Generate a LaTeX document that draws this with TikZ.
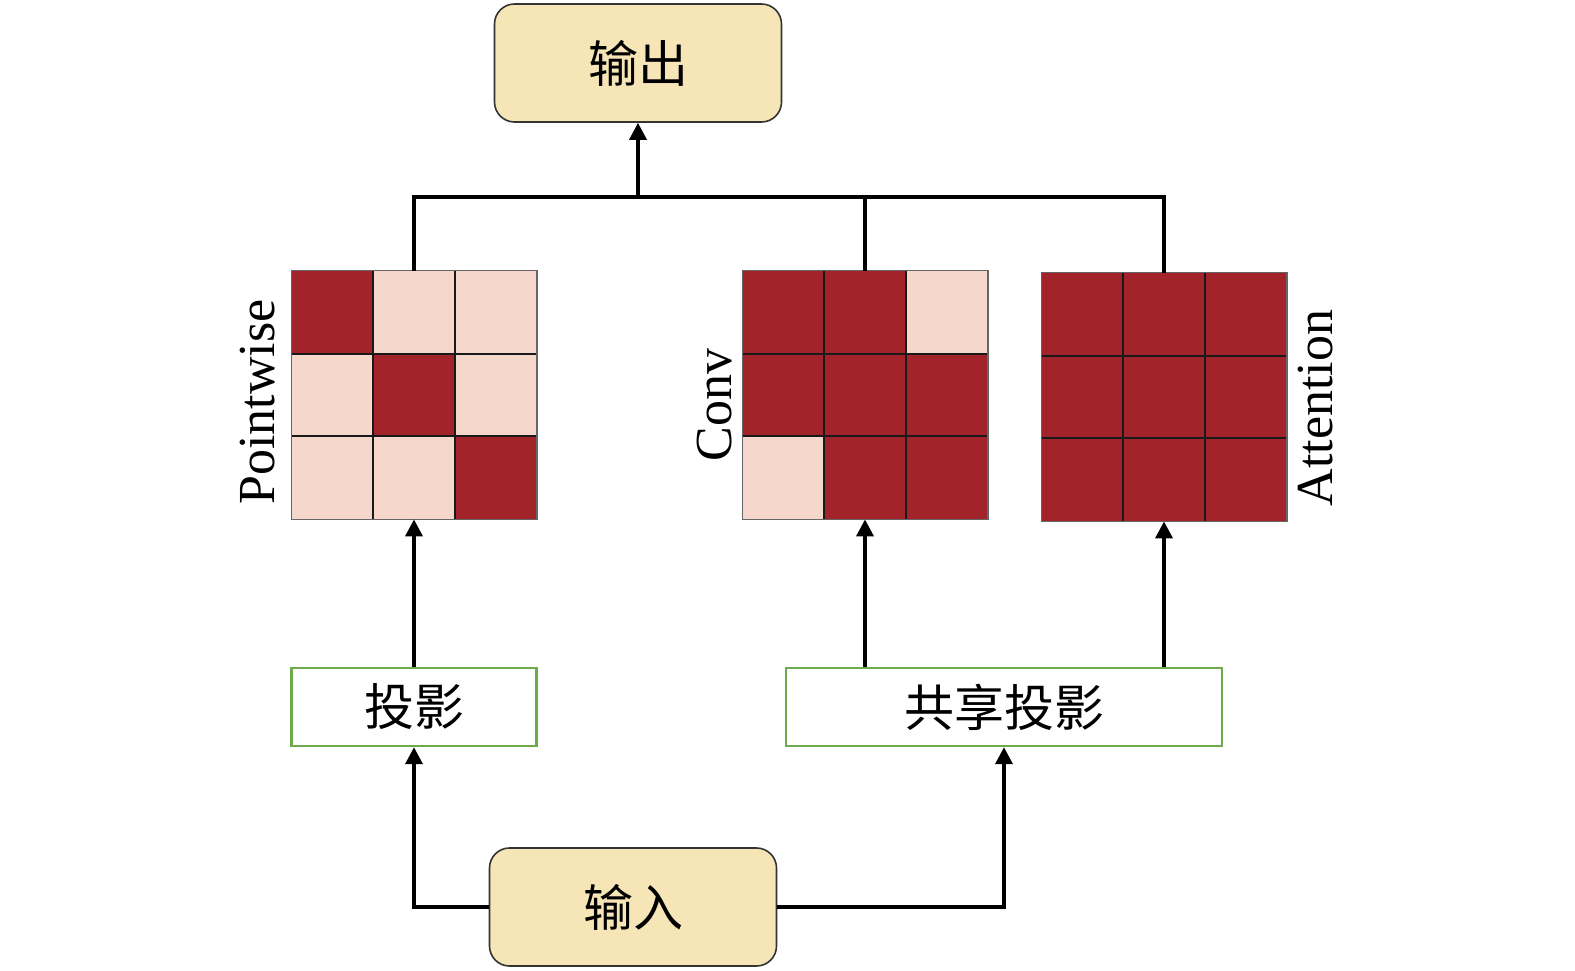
\documentclass[tikz,border=0pt]{standalone}
\usepackage{fontspec}
\setmainfont{Liberation Serif}
\newfontfamily\cjk{Noto Sans CJK SC}
\usepackage{tikz}
\usetikzlibrary{positioning,arrows.meta,calc}
\definecolor{darkred}{HTML}{A3232A}
\definecolor{lightpink}{HTML}{F5D8CB}
\definecolor{sand}{HTML}{F6E5B6}
\definecolor{leafgreen}{HTML}{6DAA4E}

\begin{document}
\begin{tikzpicture}[x=0.5pt,y=-0.5pt,
	io/.style={draw=black!80,fill=sand,rounded corners=10pt,line width=0.8pt,
		minimum width=143.5pt,minimum height=59pt,font=\cjk\fontsize{25}{25}\selectfont},
	proj/.style={draw=leafgreen,fill=white,line width=1.2pt,
		minimum height=39pt,font=\cjk\fontsize{25}{25}\selectfont},
	grid/.style={minimum width=122.5pt,minimum height=124pt,inner sep=0pt,fill=darkred},
	gridlabel/.style={rotate=90,anchor=base,inner sep=0pt,font=\fontsize{26}{26}\selectfont},
	cellline/.style={line width=1pt,black!90},
	link/.style={line width=1.8pt},
	arrowlink/.style={link,-{Triangle[width=8.5pt,length=8.5pt]}}]
	\useasboundingbox (0,0) rectangle (1575,970);

	% boxes
	\node[io] (out) at (638,63) {输出};
	\node[io] (in) at (633,907) {输入};
	\node[proj,minimum width=122.5pt] (pj) at (414,707) {投影};
	\node[proj,minimum width=218pt] (sp) at (1004,707) {共享投影};

	% grids
	\node[grid] (pw) at (414,395) {};
	\node[grid] (cv) at (865,395) {};
	\node[grid] (at) at (1164,397) {};
	\foreach \r/\c in {0/1,0/2,1/0,1/2,2/0,2/1}
	{ \fill[lightpink] ([shift={(\c*81.67,\r*82.67)}]pw.north west) rectangle +(81.67,82.67);
	}
	\foreach \r/\c in {0/2,2/0}
	{ \fill[lightpink] ([shift={(\c*81.67,\r*82.67)}]cv.north west) rectangle +(81.67,82.67);
	}
	\foreach \g in {pw,cv,at}
	{ \foreach \t in {1,2}
		{ \draw[cellline] ($(\g.north west)!\t/3!(\g.north east)$) -- ($(\g.south west)!\t/3!(\g.south east)$);
		  \draw[cellline] ($(\g.north west)!\t/3!(\g.south west)$) -- ($(\g.north east)!\t/3!(\g.south east)$);
		}
	  \draw[line width=0.6pt,black!60] (\g.north west) rectangle (\g.south east);
	}

	% labels
	\node[gridlabel] (pwlabel) at (274,402) {Pointwise};
	\node[gridlabel] (cvlabel) at (731,405) {Conv};
	\node[gridlabel] (atlabel) at (1332,408) {Attention};

	% connectors
	\coordinate (join) at (638,197);
	\draw[arrowlink] (in.west) -| (pj.south);
	\draw[arrowlink] (in.east) -| (sp.south);
	\draw[arrowlink] (pj.north) -- (pw.south);
	\draw[arrowlink] (sp.north -| cv.south) -- (cv.south);
	\draw[arrowlink] (sp.north -| at.south) -- (at.south);
	\draw[link] (pw.north) -- (pw.north |- join) -- (at.north |- join) -- (at.north);
	\draw[link] (cv.north |- join) -- (cv.north);
	\draw[arrowlink] (join) -- (out.south);
\end{tikzpicture}
\end{document}
